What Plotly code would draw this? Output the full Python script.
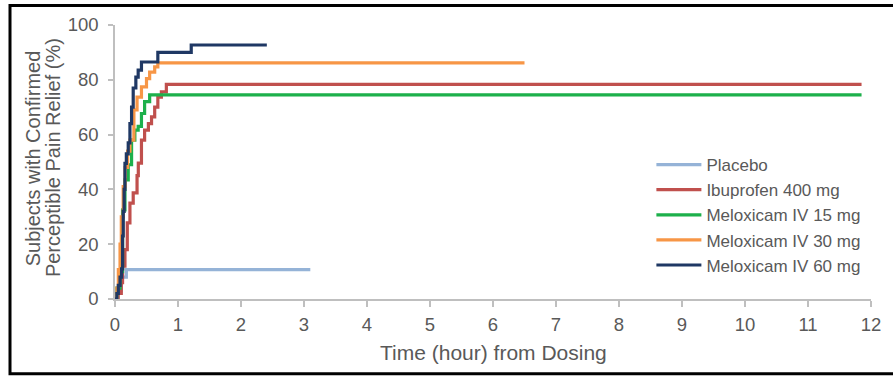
import plotly.graph_objects as go

# ---- data (hours, % subjects) ----
placebo_x = [0, 0.05, 0.10, 0.18, 3.10]
placebo_y = [0, 3, 8, 10.7, 10.7]

ibu_x = [0, 0.05, 0.10, 0.12, 0.158, 0.195, 0.237, 0.289, 0.35, 0.37, 0.42, 0.47, 0.53, 0.58, 0.63, 0.68, 0.736, 0.815, 11.85]
ibu_y = [0, 2, 6, 12, 18, 27.8, 35, 38.7, 45, 49.6, 58, 61.6, 64, 66.5, 70, 73.7, 75.6, 78.3, 78.3]

m15_x = [0, 0.03, 0.08, 0.12, 0.158, 0.21, 0.263, 0.315, 0.368, 0.42, 0.47, 0.55, 11.85]
m15_y = [0, 4, 10, 32.5, 43.5, 49, 58, 61.6, 63, 67.7, 72, 74.5, 74.5]

m30_x = [0, 0.03, 0.053, 0.08, 0.10, 0.13, 0.16, 0.20, 0.237, 0.30, 0.35, 0.42, 0.50, 0.55, 0.63, 0.68, 6.50]
m30_y = [0, 4, 10.7, 20, 30, 41, 48, 54, 58, 69, 73.7, 77.4, 80.4, 82.8, 84.7, 86.2, 86.2]

m60_x = [0, 0.03, 0.053, 0.08, 0.105, 0.12, 0.131, 0.145, 0.158, 0.18, 0.21, 0.237, 0.263, 0.289, 0.331, 0.368, 0.42, 0.68, 1.21, 2.41]
m60_y = [0, 2, 5, 8, 11, 23, 32, 40, 49.5, 53, 57, 64, 70, 77, 81, 83.5, 86.5, 90, 92.7, 92.7]

series_names = ["Placebo", "Ibuprofen 400 mg", "Meloxicam IV 15 mg", "Meloxicam IV 30 mg", "Meloxicam IV 60 mg"]
series_x = [placebo_x, ibu_x, m15_x, m30_x, m60_x]
series_y = [placebo_y, ibu_y, m15_y, m30_y, m60_y]
colors = ["#95B3D7", "#C0504D", "#1DB04B", "#F79646", "#1F3864"]

x_ticks = list(range(0, 13))
y_ticks = [0, 20, 40, 60, 80, 100]

x_title = "Time (hour) from Dosing"
y_title_lines = ["Subjects with Confirmed", "Perceptible Pain Relief (%)"]

W, H = 893, 376
ML, MR, MT, MB = 114.5, 15.3, 24.5, 76.5
PW = W - ML - MR
PH = H - MT - MB


def px_x(p):
    return (p - ML) / PW


def px_y(p):
    return (MT + PH - p) / PH


fig = go.Figure()
for name, xs, ys, c in zip(series_names, series_x, series_y, colors):
    fig.add_trace(go.Scatter(x=xs, y=ys, mode="lines", name=name,
                             line=dict(color=c, width=3.2, shape="hv")))

font_color = "#595959"
FAM = "Liberation Sans, Arial, sans-serif"
fig.update_layout(
    width=W, height=H,
    margin=dict(l=ML, r=MR, t=MT, b=MB, pad=0),
    paper_bgcolor="white", plot_bgcolor="white",
    font=dict(family=FAM, size=18, color=font_color),
    showlegend=True,
    legend=dict(x=px_x(656), y=px_y(147), xanchor="left", yanchor="top",
                font=dict(size=17, color=font_color), bgcolor="rgba(0,0,0,0)",
                tracegroupgap=0, itemwidth=45),
    xaxis=dict(range=[0, 12], tickvals=x_ticks, showgrid=False, zeroline=False,
               showline=True, linecolor="#BFBFBF", linewidth=1.5,
               ticks="outside", ticklen=6, tickcolor="#BFBFBF", tickwidth=1.5,
               tickfont=dict(size=18.5, color=font_color), ticklabelstandoff=2),
    yaxis=dict(range=[0, 100], tickvals=y_ticks, showgrid=False, zeroline=False,
               showline=True, linecolor="#BFBFBF", linewidth=1.5,
               ticks="outside", ticklen=5, tickcolor="#BFBFBF", tickwidth=1.5,
               tickfont=dict(size=18.5, color=font_color), ticklabelstandoff=6),
)

# axis titles as annotations for exact placement
fig.add_annotation(text=x_title, xref="paper", yref="paper", x=px_x(497), y=px_y(353),
                   xanchor="center", yanchor="middle", showarrow=False,
                   font=dict(size=21, color=font_color, family=FAM))
for line, cx in zip(y_title_lines, [32, 52]):
    fig.add_annotation(text=line, xref="paper", yref="paper", x=px_x(cx), y=px_y(158),
                       xanchor="center", yanchor="middle", showarrow=False, textangle=-90,
                       font=dict(size=20, color=font_color, family=FAM))

# black frame around the picture
fig.add_shape(type="rect", xref="paper", yref="paper",
              x0=px_x(8.5), x1=px_x(W + 10), y0=px_y(374.5), y1=px_y(5),
              line=dict(color="black", width=3), fillcolor="rgba(0,0,0,0)", layer="above")

fig.write_html("out.html")
